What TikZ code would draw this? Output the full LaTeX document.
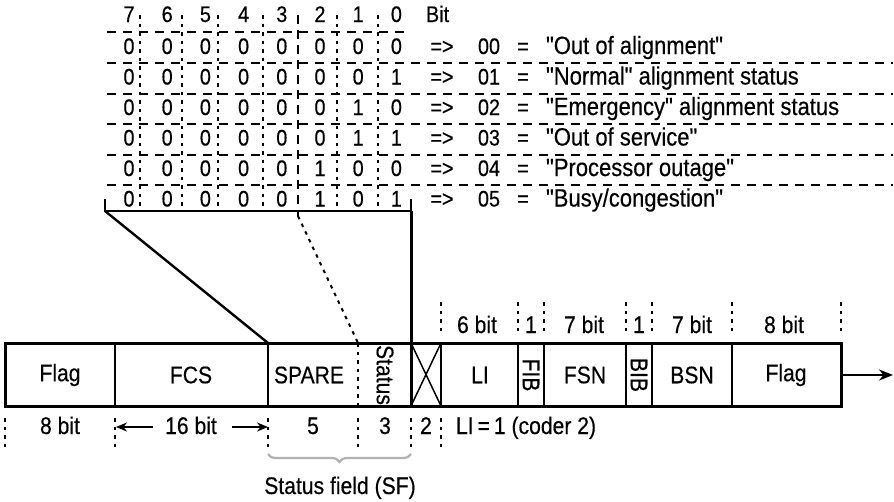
\documentclass[tikz,border=0pt]{standalone}
\usepackage{fontspec}
\setmainfont{Liberation Sans}[FakeStretch=0.88,FakeBold=0.4,Ligatures=TeXOff]
\usetikzlibrary{arrows.meta,decorations.pathreplacing}

\begin{document}
\begin{tikzpicture}[x=1pt,y=-1pt,line width=2pt,>=Stealth,
  frame/.style={line width=3pt},
  divider/.style={line width=2.4pt},
  dotsep/.style={line width=2pt,dash pattern=on 3.5pt off 5pt},
  colsep/.style={line width=2pt,dash pattern=on 9pt off 6pt},
  rowline/.style={line width=2pt,dash pattern=on 9pt off 7pt},
  boxtxt/.style={font=\fontsize{24}{28}\selectfont,inner sep=0pt},
  bittxt/.style={font=\fontsize{22.5}{27}\selectfont,inner sep=0pt,anchor=base},
  desctxt/.style={font=\fontsize{25}{29}\selectfont,inner sep=0pt,anchor=base west},
  dimtxt/.style={font=\fontsize{24}{28}\selectfont,inner sep=0pt,anchor=base},
  dimarrow/.style={->,line width=2pt,>={Stealth[length=11pt,width=9pt]}}]
\useasboundingbox (0,0) rectangle (894,501);
% ---- bit table : header ----
\foreach \b [count=\c] in {7,6,5,4,3,2,1,0}
  \node[bittxt] (head-\c) at ({129+38.2*(\c-1)},22) {\b};
\node[bittxt,anchor=base west] (bitword) at (425,22) {Bit};
\draw[rowline] (107,32) -- (411,32);
% ---- bit table : rows ----
\foreach \r/\bits/\code/\desc in {
  1/{0,0,0,0,0,0,0,0}/00/{"Out of alignment"},
  2/{0,0,0,0,0,0,0,1}/01/{"Normal" alignment status},
  3/{0,0,0,0,0,0,1,0}/02/{"Emergency" alignment status},
  4/{0,0,0,0,0,0,1,1}/03/{"Out of service"},
  5/{0,0,0,0,0,1,0,0}/04/{"Processor outage"},
  6/{0,0,0,0,0,1,0,1}/05/{"Busy/congestion"}} {
  \foreach \b [count=\c] in \bits
    \node[bittxt] (bit\r-\c) at ({129+38.2*(\c-1)},{23.5+30.5*\r}) {\b};
  \node[bittxt] (imp\r) at (442,{23.5+30.5*\r}) {=>};
  \node[bittxt] (code\r) at (489,{23.5+30.5*\r}) {\code};
  \node[bittxt] (eq\r) at (523,{23.5+30.5*\r}) {=};
  \node[desctxt] (desc\r) at (545,{23.5+30.5*\r}) {\desc};
}
\foreach \y in {63,93.5,124,154.5,185}
  \draw[rowline] (107,\y) -- (893,\y);
% ---- column separators ----
\foreach \x in {140,182,218,263,337,378}
  \draw[dotsep] (\x,15) -- (\x,208);
\draw[colsep] (298,15) -- (298,216);
% ---- bracket and lead lines to the frame ----
\coordinate (brl) at (105,211);
\coordinate (brr) at (411,211);
\draw[divider] (105,199) -- (brl) -- (brr);
\draw[divider] (411,199) -- (brr);
\draw[divider] (brl) -- (268,343);
\draw[dotsep] (298,216) -- (358,343);
% ---- signal unit frame ----
\draw[frame] (5,343) rectangle (841,406);
\foreach \x in {115,268,441,518,544,626,652,732}
  \draw[divider] (\x,343) -- (\x,406);
\draw[frame] (brr) -- (411,406);
\draw[dotsep] (358,343) -- (358,406);
\draw[line width=1.5pt] (411,343) -- (441,406) (441,343) -- (411,406);
\draw[->,line width=2.4pt,>={Stealth[length=14pt,width=11pt]}] (841,375) -- (893,375);
\node[boxtxt] (flagl) at (60,375) {Flag};
\node[boxtxt] (fcs) at (191,375) {FCS};
\node[boxtxt] (spare) at (309,375) {SPARE};
\node[boxtxt,rotate=-90] (status) at (385,375) {Status};
\node[boxtxt] (li) at (480,375) {LI};
\node[boxtxt,rotate=-90] (fib) at (531,375) {FIB};
\node[boxtxt] (fsn) at (585,375) {FSN};
\node[boxtxt,rotate=-90] (bib) at (639,375) {BIB};
\node[boxtxt] (bsn) at (692,375) {BSN};
\node[boxtxt] (flagr) at (786,375) {Flag};
% ---- widths above the frame ----
\foreach \x in {441,518,544,626,652,732,841}
  \draw[dotsep] (\x,302) -- (\x,333);
\node[dimtxt] (w-li) at (477,333) {6 bit};
\node[dimtxt] (w-fib) at (531,333) {1};
\node[dimtxt] (w-fsn) at (584,333) {7 bit};
\node[dimtxt] (w-bib) at (639,333) {1};
\node[dimtxt] (w-bsn) at (692,333) {7 bit};
\node[dimtxt] (w-flag) at (784,333) {8 bit};
% ---- widths below the frame ----
\foreach \x in {5,115,268,358,411,441}
  \draw[dotsep] (\x,418) -- (\x,449);
\node[dimtxt] (w-flagl) at (60,434) {8 bit};
\node[dimtxt] (w-fcs) at (191,434) {16 bit};
\coordinate (fcsl) at (116,427);
\coordinate (fcsr) at (268,427);
\draw[dimarrow] (153,427) -- (fcsl);
\draw[dimarrow] (232,427) -- (fcsr);
\node[dimtxt] (w-spare) at (313,434) {5};
\node[dimtxt] (w-status) at (385,434) {3};
\node[dimtxt] (w-fill) at (426,434) {2};
\node[dimtxt,anchor=base west] (w-li1) at (455,434) {LI\,=\,1 (coder 2)};
% ---- status field brace ----
\draw[decorate,decoration={brace,mirror,amplitude=8pt},line width=2.2pt,gray!60]
  (268,454) -- (411,454);
\node[dimtxt] (sf) at (340,494) {Status field (SF)};
\end{tikzpicture}
\end{document}
